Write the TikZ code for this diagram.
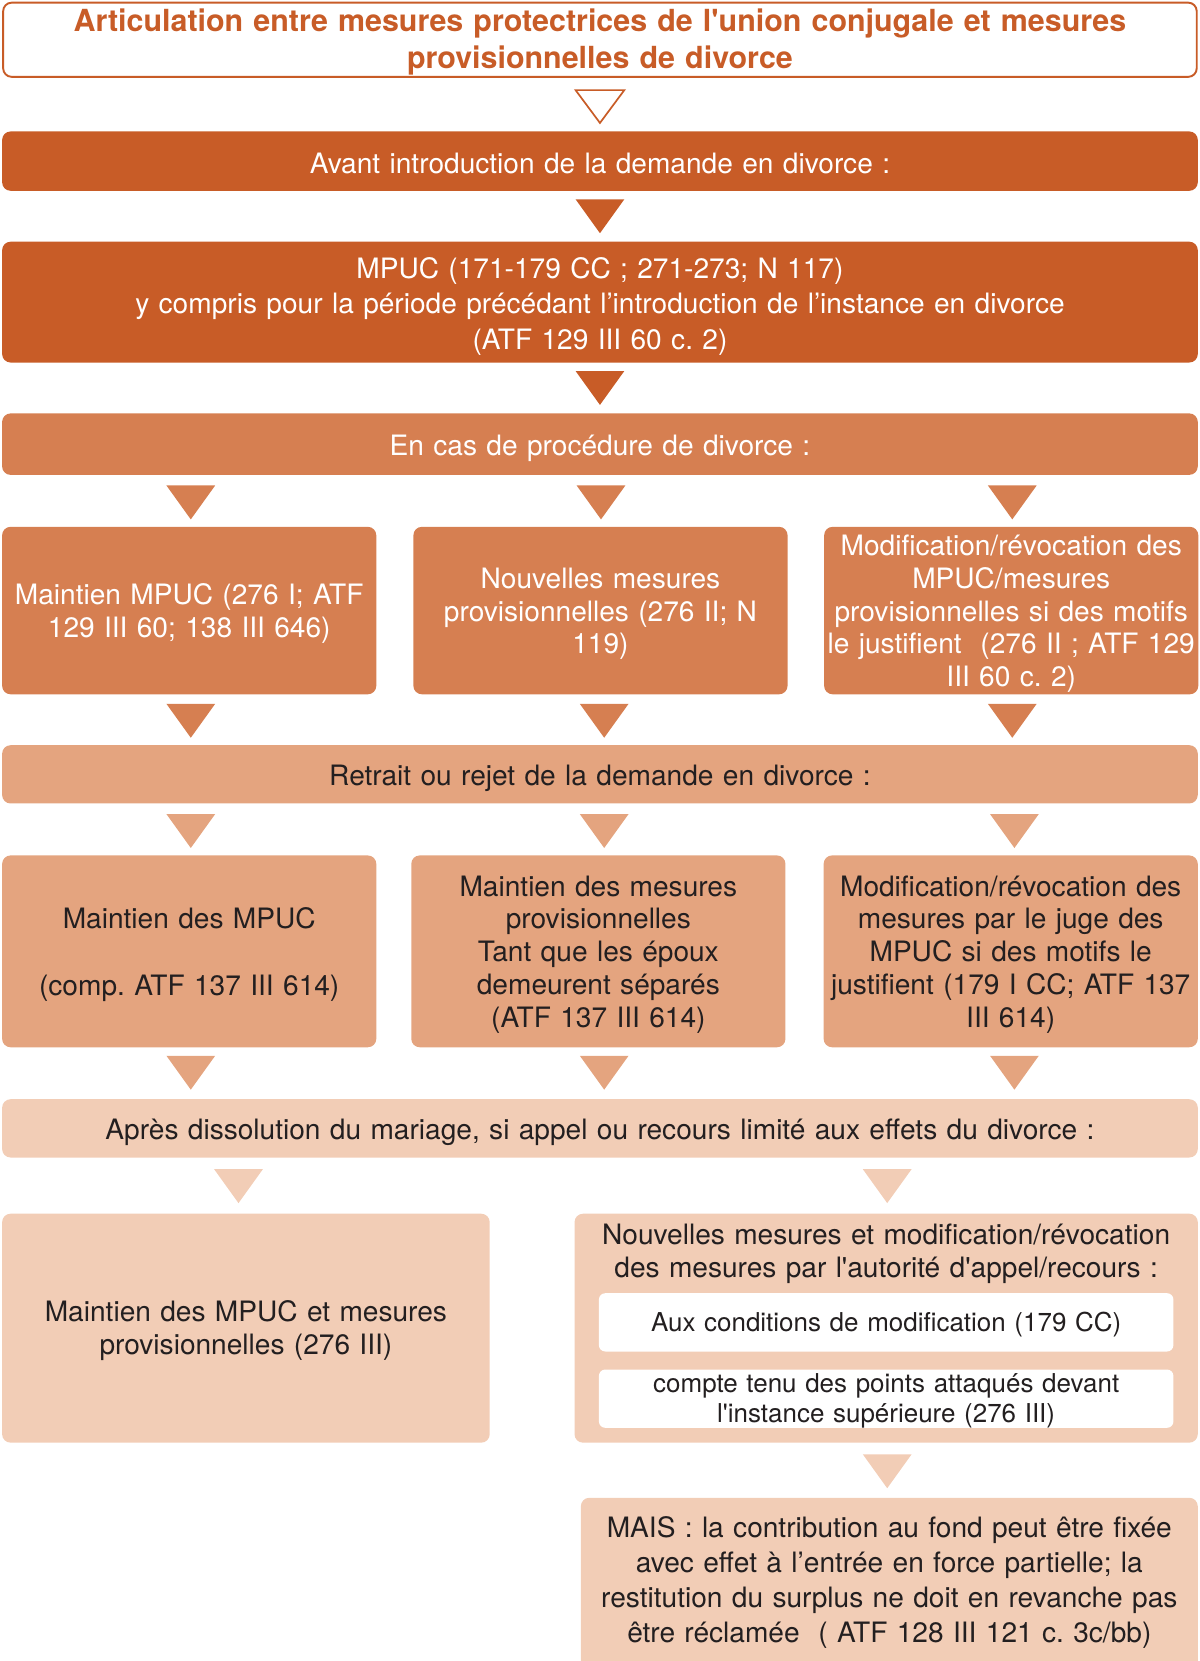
\documentclass[tikz,border=0pt]{standalone}
\usepackage{fontspec}
\setmainfont{TeX Gyre Heros}
\usetikzlibrary{calc}
\definecolor{dk}{HTML}{C85C27}
\definecolor{md}{HTML}{D67F51}
\definecolor{lt}{HTML}{E4A47F}
\definecolor{vl}{HTML}{F2CDB6}
\definecolor{tx}{HTML}{231F20}
\newcommand\sq{\textquotesingle}
\newcommand\tri[3]{\fill[#3] (#1-23,#2) -- (#1+23,#2) -- (#1,#2+32) -- cycle;}
\frenchspacing
\begin{document}
\begin{tikzpicture}[x=1pt,y=-1pt,
  box/.style={rounded corners=8pt, inner sep=0pt},
  dkbox/.style={box, fill=dk},
  mdbox/.style={box, fill=md},
  ltbox/.style={box, fill=lt},
  vlbox/.style={box, fill=vl},
  wide/.style={minimum width=1128pt},
  col/.style={minimum width=353pt},
  txt/.style={inner sep=0pt, align=center, text width=1120pt, font=\fontsize{26.5}{31}\selectfont},
  wt/.style={txt, text=white},
  dt/.style={txt, text=tx},
  innerbox/.style={box, fill=white, minimum width=542pt, minimum height=55pt, rounded corners=6pt},
  innertxt/.style={dt, font=\fontsize{24.5}{28}\selectfont}]
\useasboundingbox (0,0) rectangle (1132,1567);

% title
\node[box, draw=dk, line width=1.8pt, fill=white, minimum width=1126pt, minimum height=70pt] (title) at (566,37.5) {};
\node[txt, text=dk, font=\bfseries\fontsize{28.7}{35}\selectfont] (titlet) at ([yshift=-2pt]title.center)
  {Articulation entre mesures protectrices de l\sq union conjugale et mesures\\provisionnelles de divorce};
\filldraw[draw=dk, fill=white, line width=1.6pt, line join=miter] (543,85) -- (589,85) -- (566,116) -- cycle;

\node[dkbox, wide, minimum height=56pt] (b1) at (566,152) {};
\node[wt] (b1t) at ([yshift=-2pt]b1.center) {Avant introduction de la demande en divorce :};
\tri{566}{188}{dk}
\node[dkbox, wide, minimum height=114pt] (b2) at (566,285) {};
\node[wt, font=\fontsize{26.5}{33.5}\selectfont] (b2t) at ([yshift=-4pt]b2.center)
  {MPUC (171-179 CC ; 271-273; N 117)\\y compris pour la période précédant l’introduction de l’instance en divorce\\(ATF 129 III 60 c. 2)};
\tri{566}{350}{dk}
\node[mdbox, wide, minimum height=58pt] (b3) at (566,419) {};
\node[wt] (b3t) at ([yshift=-4pt]b3.center) {En cas de procédure de divorce :};
\tri{180}{458}{md}
\tri{567}{458}{md}
\tri{955}{458}{md}

\node[mdbox, col, minimum height=158pt] (r1a) at (178.5,576) {};
\node[wt] (r1at) at ([yshift=-3pt]r1a.center) {Maintien MPUC (276 I; ATF\\129 III 60; 138 III 646)};
\node[mdbox, col, minimum height=158pt] (r1b) at (566.5,576) {};
\node[wt] (r1bt) at ([yshift=-3pt]r1b.center) {Nouvelles mesures\\provisionnelles (276 II; N\\119)};
\node[mdbox, col, minimum height=158pt] (r1c) at (954,576) {};
\node[wt] (r1ct) at ([yshift=-3pt]r1c.center) {Modification/révocation des\\MPUC/mesures\\provisionnelles si des motifs\\le justifient~ (276 II ; ATF 129\\III 60 c. 2)};
\tri{180}{664}{md}
\tri{570}{664}{md}
\tri{955}{664}{md}

\node[ltbox, wide, minimum height=55pt] (b4) at (566,730.5) {};
\node[dt] (b4t) at ([yshift=-4pt]b4.center) {Retrait ou rejet de la demande en divorce :};
\tri{180}{768}{lt}
\tri{570}{768}{lt}
\tri{957}{768}{lt}

\node[ltbox, col, minimum height=181pt] (r2a) at (178.5,897.5) {};
\node[dt] (r2at) at ([yshift=-3pt]r2a.center) {Maintien des MPUC\\[32pt](comp. ATF 137 III 614)};
\node[ltbox, col, minimum height=181pt] (r2b) at (564.5,897.5) {};
\node[dt] (r2bt) at ([yshift=-3pt]r2b.center) {Maintien des mesures\\provisionnelles\\Tant que les époux\\demeurent séparés\\(ATF 137 III 614)};
\node[ltbox, col, minimum height=181pt] (r2c) at (953.5,897.5) {};
\node[dt] (r2ct) at ([yshift=-3pt]r2c.center) {Modification/révocation des\\mesures par le juge des\\MPUC si des motifs le\\justifient (179 I CC; ATF 137\\III 614)};
\tri{180}{996}{lt}
\tri{570}{996}{lt}
\tri{957}{996}{lt}

\node[vlbox, wide, minimum height=55pt] (b5) at (566,1064.5) {};
\node[dt] (b5t) at ([yshift=-4pt]b5.center) {Après dissolution du mariage, si appel ou recours limité aux effets du divorce :};
\tri{225}{1103}{vl}
\tri{837}{1103}{vl}

\node[vlbox, minimum width=460pt, minimum height=216pt] (left) at (232,1253) {};
\node[dt] (leftt) at ([yshift=-2pt]left.center) {Maintien des MPUC et mesures\\provisionnelles (276 III)};
\node[vlbox, minimum width=588pt, minimum height=216pt] (right) at (836,1253) {};
\node[dt, font=\fontsize{26.5}{31.5}\selectfont] (rhead) at (836,1183) {Nouvelles mesures et modification/révocation\\des mesures par l\sq autorité d\sq appel/recours :};
\node[innerbox] (in1) at (836,1247.5) {};
\node[innertxt] (in1t) at ([yshift=-2pt]in1.center) {Aux conditions de modification (179 CC)};
\node[innerbox] (in2) at (836,1319.5) {};
\node[innertxt] (in2t) at ([yshift=-2pt]in2.center) {compte tenu des points attaqués devant\\l\sq instance supérieure (276 III)};
\tri{837}{1372}{vl}

\fill[vl, rounded corners=8pt] (548,1413) rectangle (1130,1620);
\node[dt, font=\fontsize{26.5}{33}\selectfont] (mais) at (839,1493)
  {MAIS : la contribution au fond peut être fixée\\avec effet à l’entrée en force partielle; la\\restitution du surplus ne doit en revanche pas\\être réclamée~ ( ATF 128 III 121 c. 3c/bb)};
\end{tikzpicture}
\end{document}
